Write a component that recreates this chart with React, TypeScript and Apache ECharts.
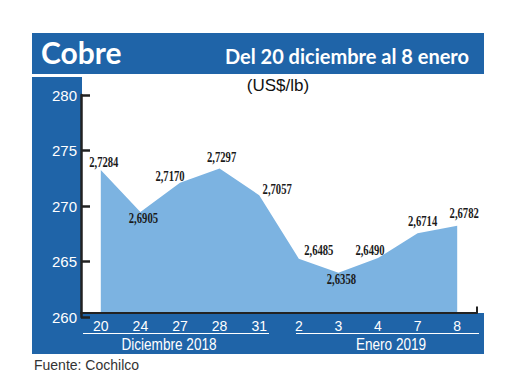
import React, { useEffect, useRef } from "react";
import * as echarts from "echarts";

const categories = ["20", "24", "27", "28", "31", "2", "3", "4", "7", "8"];
const prices = [272.84, 269.05, 271.7, 272.97, 270.57, 264.85, 263.58, 264.9, 267.14, 267.82];
const yMin = 260;
const yMax = 280;
const yInterval = 5;
const titleText = "Cobre";
const subtitleText = "Del 20 diciembre al 8 enero";
const unitText = "(US$/lb)";
const sourceText = "Fuente: Cochilco";
const groupLabels = ["Diciembre 2018", "Enero 2019"];

// label centre offsets from each point (style only)
const labelOffsets: [number, number][] = [
  [3, -7], [3, 6], [-10, -6], [2, -11], [18, -6],
  [20, -8], [3, 7], [-8, -8], [5, -12], [7, -12],
];

const BLUE = "#1f64a8";
const AREA = "#7cb3e1";
const SANS = "'Liberation Sans', Arial, sans-serif";

function txt(text: string, x: number, y: number, size: number, fill: string, family: string, weight: string, align: string, scaleX = 1) {
  return {
    type: "text",
    z: 10,
    x,
    y,
    scaleX,
    style: {
      text,
      fill,
      fontSize: size,
      fontFamily: family,
      fontWeight: weight,
      align,
      textAlign: align,
      verticalAlign: "middle",
      textVerticalAlign: "middle",
    },
  };
}

export default function App() {
  const ref = useRef<HTMLDivElement>(null);
  useEffect(() => {
    if (!ref.current) return;
    const chart = echarts.init(ref.current, undefined, { renderer: "svg" });
    const fmt = (v: number) => (v / 100).toFixed(4).replace(".", ",");
    chart.setOption({
      animation: false,
      backgroundColor: "#ffffff",
      grid: [
        { left: 81, right: 43, top: 90.5, bottom: 77.5 },
        { left: 81, right: 43, top: 95, bottom: 73 },
      ],
      xAxis: [
        {
          type: "category",
          gridIndex: 0,
          data: categories,
          boundaryGap: true,
          z: 3,
          axisLine: { show: true, lineStyle: { color: "#222", width: 2 } },
          axisTick: { show: false },
          axisLabel: {
            interval: 0,
            color: "#fff",
            fontSize: 14,
            fontFamily: SANS,
            margin: 6,
          },
        },
        {
          type: "category",
          gridIndex: 1,
          data: categories,
          show: false,
        },
      ],
      yAxis: [
        {
          type: "value",
          gridIndex: 0,
          min: yMin,
          max: yMax,
          interval: yInterval,
          show: false,
          splitLine: { show: false },
        },
        {
          type: "value",
          gridIndex: 1,
          min: yMin,
          max: yMax,
          interval: yInterval,
          z: 3,
          splitLine: { show: false },
          axisLine: { show: true, lineStyle: { color: "#222", width: 2.5 } },
          axisTick: { show: true, inside: true, length: 9, lineStyle: { color: "#222", width: 2.5 } },
          axisLabel: {
            color: "#fff",
            fontSize: 15,
            fontFamily: SANS,
            margin: 4,
          },
        },
      ],
      series: [
        {
          type: "line",
          xAxisIndex: 0,
          yAxisIndex: 0,
          data: prices,
          symbol: "none",
          lineStyle: { width: 0, color: AREA },
          areaStyle: { color: AREA, opacity: 1 },
        },
        {
          type: "custom",
          xAxisIndex: 0,
          yAxisIndex: 0,
          z: 5,
          data: prices.map((v, i) => [i, v]),
          renderItem: (params: any, api: any) => {
            const i = params.dataIndex;
            const p = api.coord([api.value(0), api.value(1)]);
            const off = labelOffsets[i];
            return {
              type: "text",
              x: p[0] + off[0],
              y: p[1] + off[1],
              scaleX: 0.76,
              style: {
                text: fmt(api.value(1)),
                fill: "#1a1a1a",
                fontSize: 14,
                fontWeight: "bold",
                fontFamily: "'Liberation Serif', serif",
                align: "center",
                textAlign: "center",
                verticalAlign: "middle",
                textVerticalAlign: "middle",
              },
            };
          },
        },
      ],
      graphic: [
        { type: "rect", z: -10, shape: { x: 32, y: 33, width: 452, height: 41 }, style: { fill: BLUE } },
        { type: "rect", z: -10, shape: { x: 32, y: 77, width: 50, height: 277 }, style: { fill: BLUE } },
        { type: "rect", z: -10, shape: { x: 32, y: 313, width: 452, height: 41 }, style: { fill: BLUE } },
        { type: "line", z: 5, shape: { x1: 477, y1: 306.5, x2: 477, y2: 313 }, style: { stroke: "#222", lineWidth: 2 } },
        { type: "line", z: 5, shape: { x1: 83, y1: 333.5, x2: 269, y2: 333.5 }, style: { stroke: "#fff", lineWidth: 1.2 } },
        { type: "line", z: 5, shape: { x1: 296, y1: 333.5, x2: 479, y2: 333.5 }, style: { stroke: "#fff", lineWidth: 1.2 } },
        txt(titleText, 41, 52, 30, "#fff", "Lato, sans-serif", "bold", "left"),
        txt(subtitleText, 469, 56, 20, "#fff", "Lato, sans-serif", "bold", "right"),
        txt(unitText, 278, 85, 17, "#111", SANS, "normal", "center"),
        txt(groupLabels[0], 169, 344, 17, "#fff", SANS, "normal", "center", 0.8),
        txt(groupLabels[1], 391, 344, 17, "#fff", SANS, "normal", "center", 0.8),
        txt(sourceText, 34, 365, 14, "#333", SANS, "normal", "left"),
      ],
    });
    return () => chart.dispose();
  }, []);
  return <div ref={ref} style={{ position: "fixed", left: 0, top: 0, width: 520, height: 390 }} />;
}
